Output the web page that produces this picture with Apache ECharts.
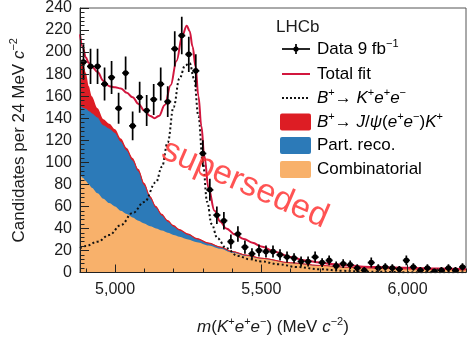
<!DOCTYPE html>
<html><head><meta charset="utf-8">
<script src="https://cdn.jsdelivr.net/npm/echarts@6/dist/echarts.min.js"></script>
<style>html,body{margin:0;padding:0;background:#fff}#c{width:471px;height:341px}</style>
</head><body><div id="c"></div>
<script>
// ---- data ----
const binCenters = [4892,4916,4940,4964,4988,5012,5036,5060,5084,5108,5132,5156,5180,5204,5228,5252,5276,5300,5324,5348,5372,5396,5420,5444,5468,5492,5516,5540,5564,5588,5612,5636,5660,5684,5708,5732,5756,5780,5804,5828,5852,5876,5900,5924,5948,5972,5996,6020,6044,6068,6092,6116,6140,6164,6188];
const counts = [191,187,187,171,177,149,181,133,159,147,157,171,155,203,215,198,183,108,75,52,47,28,35,23,17,20,19,19,16,14,13,10,10,14,9,11,6,8,7,4,2,9,4,5,4,3,11,5,2,4,1,2,4,2,5];
const countErrors = [16,16,16,15,15,14,15,13,14,14,14,15,14,16,17,16,15,12,10,8,8,6.5,7,6,5,5.5,5.5,5.5,5,5,4.5,4.5,4.5,5,4,4.5,4,4,4,3.5,3,4.5,3.5,3.5,3.5,3,4.5,3.5,3,3.5,2.5,3,3.5,3,3.5];
const binHalfWidth = 12;

const compMass = [4880,4890,4900,4910,4920,4940,4960,4980,5000,5020,5040,5060,5080,5100,5120,5140,5160,5180,5200,5220,5250,5280,5320,5360,5400,5450,5500,5600,5700,5800,5900,6000,6100,6200];
const combinatorial = [89,86,83,80,77,72,67,63,60,56,53,50,47,44.5,42,40,38,36,34,32.5,30,27.5,24.5,21.5,18,15,12.5,8.5,6.2,4.6,3.8,3.2,2.7,2.3];
const partReco = [63,64,66,67,68,69,67,68,67,63,58,52,45,35,26,19,14,10.5,8,6,4.5,3,2,1.5,1,0.7,0.5,0.3,0.2,0.1,0.1,0,0,0];
const jpsiK = [45,40,32,22,15,8,5,4,3,2.5,2,2,1.8,1.6,1.5,1.4,1.3,1.2,1.1,1,0.9,0.8,0.7,0.6,0.5,0.4,0.3,0.2,0.2,0.1,0.1,0.1,0.1,0.1];

const sigMass = [4880,4900,4940,4980,5020,5060,5100,5140,5160,5180,5200,5220,5240,5255,5270,5285,5300,5315,5330,5350,5380,5420,5460,5500,5560,5620,5700,5780,5850,6000,6200];
const sigVals = [22,24,28,34,43,54,64,82,96,118,150,176,188,190,176,142,100,64,44,31,22,15,12,10,7.5,5,3,1.5,0.8,0.3,0.1];

const fitMass = [4880,4890,4900,4910,4920,4940,4960,4980,5000,5020,5040,5060,5080,5100,5120,5135,5150,5170,5190,5210,5230,5245,5255,5265,5275,5285,5295,5305,5320,5340,5360,5380,5410,5440,5470,5500,5550,5600,5650,5700,5750,5800,5850,5900,6000,6100,6200];
const fitVals = [216,204,195,190,187,182,174,169,168,167,163,159,153,147,142,140,142,152,170,192,215,224,219,205,187,160,133,106,76,56,46,40,34.5,30.5,27,23.5,18.5,14,11,9,7.5,6.5,5.3,4.9,4.2,3.6,3.1];

const xTickValues = [5000,5500,6000];
const xTickLabels = ['5,000','5,500','6,000'];
const xMinorTickValues = [4900,5100,5200,5300,5400,5600,5700,5800,5900,6100,6200];

// ---- styles ----
const FONT = 'Liberation Sans, Arial, Helvetica, sans-serif';
const C_JPSI = '#dd1d24', C_PR = '#2c7ab8', C_COMB = '#f8b16b', C_FIT = '#d2173e';
const TXT = '#1c1c1c';
const richBase = {
  n: {fontSize: 17, fontFamily: FONT, color: TXT, lineHeight: 22},
  i: {fontSize: 17, fontFamily: FONT, color: TXT, fontStyle: 'italic', lineHeight: 22},
  s: {fontSize: 11, fontFamily: FONT, color: TXT, lineHeight: 12, verticalAlign: 'top'}
};
const zip = (a, b) => a.map((v, k) => [v, b[k]]);
// stacked tops (comb, comb+partReco, comb+partReco+jpsi)
const topComb = combinatorial.slice();
const topPR = combinatorial.map((v, k) => v + partReco[k]);
const topJpsi = topPR.map((v, k) => v + jpsiK[k]);

const chart = echarts.init(document.getElementById('c'), null, {renderer: 'canvas'});

function renderPoint(params, api) {
  const x = api.value(0), y = api.value(1), e = api.value(2), h = api.value(3);
  const c = api.coord([x, y]);
  const lo = api.coord([x, y - e]);
  const hi = api.coord([x, y + e]);
  const l = api.coord([x - h, y]);
  const r = api.coord([x + h, y]);
  const st = {stroke: '#000', lineWidth: 1.7};
  return {type: 'group', children: [
    {type: 'line', shape: {x1: c[0], y1: hi[1], x2: c[0], y2: lo[1]}, style: st},
    {type: 'line', shape: {x1: l[0], y1: c[1], x2: r[0], y2: c[1]}, style: st},
    {type: 'circle', shape: {cx: c[0], cy: c[1], r: 2.8}, style: {fill: '#000'}}
  ]};
}

const legendRows = [49, 74, 98, 122, 145.5, 169.5];
const LX0 = 282, LX1 = 310, TX = 317;
const graphics = [
  {type: 'text', x: 276, y: 27, style: {text: 'LHCb', font: '17px ' + FONT, fill: TXT, verticalAlign: 'middle'}},
  {type: 'line', shape: {x1: LX0, y1: legendRows[0], x2: LX1, y2: legendRows[0]}, style: {stroke: '#000', lineWidth: 1.7}},
  {type: 'line', shape: {x1: (LX0+LX1)/2, y1: legendRows[0]-5, x2: (LX0+LX1)/2, y2: legendRows[0]+5}, style: {stroke: '#000', lineWidth: 1.7}},
  {type: 'circle', shape: {cx: (LX0+LX1)/2, cy: legendRows[0], r: 2.6}, style: {fill: '#000'}},
  {type: 'line', shape: {x1: LX0, y1: legendRows[1], x2: LX1, y2: legendRows[1]}, style: {stroke: C_FIT, lineWidth: 2}},
  {type: 'line', shape: {x1: LX0, y1: legendRows[2], x2: LX1, y2: legendRows[2]}, style: {stroke: '#111', lineWidth: 2, lineDash: [2, 2]}},
  {type: 'rect', shape: {x: 280, y: legendRows[3]-8.5, width: 31, height: 17, r: 2}, style: {fill: C_JPSI}},
  {type: 'rect', shape: {x: 280, y: legendRows[4]-8.5, width: 31, height: 17, r: 2}, style: {fill: C_PR}},
  {type: 'rect', shape: {x: 280, y: legendRows[5]-8.5, width: 31, height: 17, r: 2}, style: {fill: C_COMB}},
  {type: 'text', x: TX, y: legendRows[0], style: {text: '{n|Data 9 fb}{s|−1}', rich: richBase, verticalAlign: 'middle'}},
  {type: 'text', x: TX, y: legendRows[1], style: {text: '{n|Total fit}', rich: richBase, verticalAlign: 'middle'}},
  {type: 'text', x: TX, y: legendRows[2], style: {text: '{i|B}{s|+}{n|→ }{i|K}{s|+}{i|e}{s|+}{i|e}{s|−}', rich: richBase, verticalAlign: 'middle'}},
  {type: 'text', x: TX, y: legendRows[3], style: {text: '{i|B}{s|+}{n|→ }{i|J}{n|/}{i|ψ}{n|(}{i|e}{s|+}{i|e}{s|−}{n|)}{i|K}{s|+}', rich: richBase, verticalAlign: 'middle'}},
  {type: 'text', x: TX, y: legendRows[4], style: {text: '{n|Part. reco.}', rich: richBase, verticalAlign: 'middle'}},
  {type: 'text', x: TX, y: legendRows[5], style: {text: '{n|Combinatorial}', rich: richBase, verticalAlign: 'middle'}},
  {type: 'text', x: 245, y: 184, rotation: -0.41, z: 100, style: {text: 'superseded', font: '34px ' + FONT, fill: 'rgba(255,45,45,0.82)', align: 'center', verticalAlign: 'middle'}}
];

const areaSeries = (name, tops, color, edge) => ({
  name, type: 'line', data: zip(compMass, tops), symbol: 'none', smooth: 0.3, smoothMonotone: 'x',
  lineStyle: edge ? {width: 1, color: edge} : {width: 0}, areaStyle: {color, opacity: 1}, z: 1
});

const option = {
  animation: false,
  backgroundColor: '#fff',
  grid: {left: 78, right: 5, top: 8, bottom: 66, show: true, borderColor: '#555', borderWidth: 1, backgroundColor: 'transparent'},
  xAxis: [{
    type: 'value', min: 4880, max: 6200, z: 10,
    axisLine: {lineStyle: {color: '#222', width: 1}},
    axisTick: {inside: true, length: 8, customValues: xTickValues, lineStyle: {color: '#222', width: 1}},
    axisLabel: {customValues: xTickValues, margin: 9, fontSize: 16, fontFamily: FONT, color: TXT,
      formatter: v => xTickLabels[xTickValues.indexOf(v)] || ''},
    splitLine: {show: false},
    name: '{i|m}{n|(}{i|K}{s|+}{i|e}{s|+}{i|e}{s|−}{n|) (MeV }{i|c}{s|−2}{n|)}',
    nameLocation: 'middle', nameGap: 44,
    nameTextStyle: {rich: richBase}
  }, {
    type: 'value', min: 4880, max: 6200, z: 10, position: 'bottom',
    axisLine: {show: false},
    axisTick: {inside: true, length: 4, customValues: xMinorTickValues, lineStyle: {color: '#222', width: 1}},
    axisLabel: {show: false}, splitLine: {show: false}
  }],
  yAxis: {
    type: 'value', min: 0, max: 240, interval: 20, z: 10,
    axisLine: {show: true, lineStyle: {color: '#222', width: 1}},
    axisTick: {show: true, inside: true, length: 9, lineStyle: {color: '#222', width: 1}},
    minorTick: {show: true, splitNumber: 5, length: 4.5, lineStyle: {color: '#222', width: 1}},
    axisLabel: {margin: 8, fontSize: 16, fontFamily: FONT, color: TXT},
    splitLine: {show: false},
    name: '{n|Candidates per 24 MeV }{i|c}{s|−2}',
    nameLocation: 'middle', nameGap: 50, nameRotate: 90,
    nameTextStyle: {rich: richBase}
  },
  graphic: graphics,
  series: [
    areaSeries('JpsiK', topJpsi, C_JPSI, null),
    areaSeries('Part. reco.', topPR, C_PR, C_JPSI),
    areaSeries('Combinatorial', topComb, C_COMB, null),
    {name: 'Signal', type: 'line', data: zip(sigMass, sigVals), symbol: 'none', smooth: 0.4, smoothMonotone: 'x',
      lineStyle: {width: 2, color: '#111', type: [2, 2.5]}, z: 3},
    {name: 'Total fit', type: 'line', data: zip(fitMass, fitVals), symbol: 'none', smooth: 0.4, smoothMonotone: 'x',
      lineStyle: {width: 2, color: C_FIT}, z: 4},
    {name: 'Data', type: 'custom', renderItem: renderPoint, clip: true, z: 5,
      data: binCenters.map((x, k) => [x, counts[k], countErrors[k], binHalfWidth])}
  ]
};
chart.setOption(option);
</script>
</body></html>
